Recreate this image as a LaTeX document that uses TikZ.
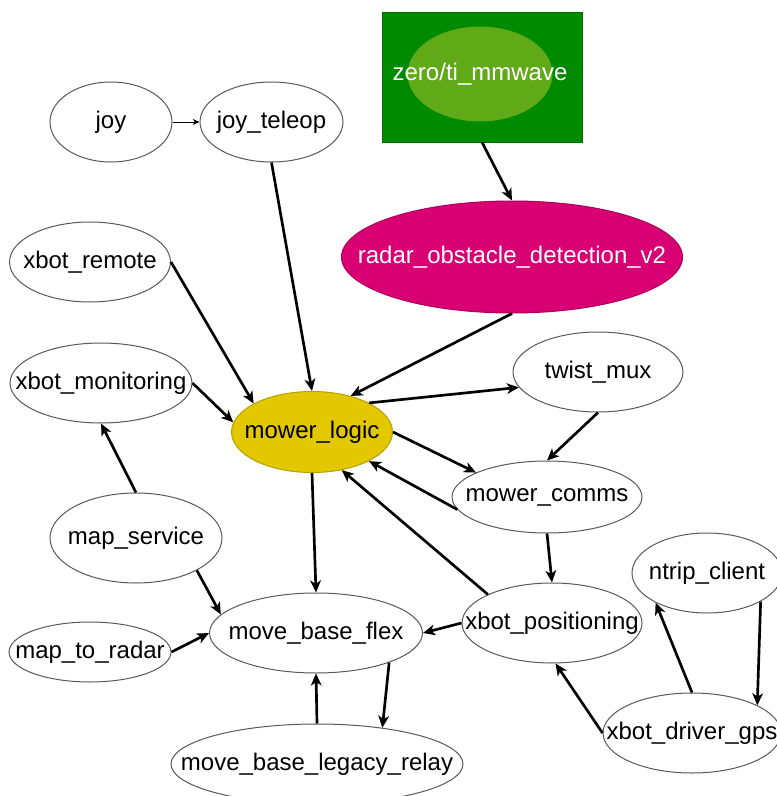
\documentclass[tikz,border=0pt]{standalone}
\usepackage{fontspec}
\setmainfont{Liberation Sans}
\usepackage{tikz}
\usepackage{xcolor}
\usetikzlibrary{shapes.geometric, arrows.meta}

\definecolor{boxgreen}{HTML}{008A00}
\definecolor{lightgreen}{HTML}{60A917}
\definecolor{radarpink}{HTML}{D80073}
\definecolor{logicyellow}{HTML}{E3C800}
\newcommand{\lbl}[1]{\makebox[0pt]{#1}}

\begin{document}
\begin{tikzpicture}[x=0.75pt, y=-0.75pt,
  proc/.style={ellipse, draw=black!65, line width=0.75pt, fill=white, inner sep=0pt,
    font=\fontsize{18}{21}\selectfont},
  link/.style={-{Stealth[length=9pt, width=8pt, inset=2.5pt]}, line width=2pt},
  thinlink/.style={-{Stealth[length=5pt, width=4.5pt, inset=1.5pt]}, line width=0.75pt}]
\useasboundingbox (0,0) rectangle (777,796);

% radar driver box
\node[draw=boxgreen!80!black, fill=boxgreen, minimum width=150pt, minimum height=97.5pt] (mmwave) at (482,77) {};
\node[proc, draw=lightgreen, fill=lightgreen, text=white, minimum width=108pt, minimum height=70.5pt] (mmwavecore) at (480,74) {\lbl{zero/ti\_mmwave}};

% Nodes
\node[proc, minimum width=91.5pt, minimum height=60pt] (joy) at (111,122) {\lbl{joy}};
\node[proc, minimum width=107.25pt, minimum height=60pt] (joyteleop) at (271.5,122) {\lbl{joy\_teleop}};
\node[proc, minimum width=120.75pt, minimum height=60pt] (xbotremote) at (90,262) {\lbl{xbot\_remote}};
\node[proc, draw=radarpink!80!black, fill=radarpink, text=white, minimum width=255.75pt, minimum height=84pt] (radar) at (512,257) {\lbl{radar\_obstacle\_detection\_v2}};
\node[proc, minimum width=136.5pt, minimum height=60pt] (monitoring) at (101,383) {\lbl{xbot\_monitoring}};
\node[proc, draw=logicyellow!80!black, fill=logicyellow, minimum width=120.75pt, minimum height=60.75pt] (logic) at (312,432) {\lbl{mower\_logic}};
\node[proc, minimum width=127.5pt, minimum height=60pt] (twistmux) at (598,372) {\lbl{twist\_mux}};
\node[proc, minimum width=142.5pt, minimum height=54pt] (comms) at (547,497) {\lbl{mower\_comms}};
\node[proc, minimum width=129pt, minimum height=67.5pt] (mapservice) at (136,538) {\lbl{map\_service}};
\node[proc, minimum width=112.5pt, minimum height=60pt] (ntrip) at (707,573) {\lbl{ntrip\_client}};
\node[proc, minimum width=135pt, minimum height=60pt] (positioning) at (552,623) {\lbl{xbot\_positioning}};
\node[proc, minimum width=159.75pt, minimum height=60pt] (mbf) at (316,633) {\lbl{move\_base\_flex}};
\node[proc, minimum width=121.5pt, minimum height=45pt] (maptoradar) at (90,652) {\lbl{map\_to\_radar}};
\node[proc, minimum width=133.5pt, minimum height=60pt] (gps) at (692,733) {\lbl{xbot\_driver\_gps}};
\node[proc, minimum width=219pt, minimum height=60pt] (relay) at (317,764) {\lbl{move\_base\_legacy\_relay}};

% Connections
\draw[thinlink] (joy.east) -- (joyteleop.west);
\draw[link] (joyteleop.south) -- (logic.north);
\draw[link] (mmwave.south) -- (radar.north);
\draw[link] (radar.south) -- (logic.43);
\draw[link] (xbotremote.east) -- (logic.154);
\draw[link] (monitoring.east) -- (logic.173);
\draw[link] (logic.27) -- (twistmux.191);
\draw[link] (logic.east) -- (comms.161);
\draw[link] (twistmux.south) -- (comms.north);
\draw[link] (comms.188) -- (logic.-27);
\draw[link] (positioning.156) -- (logic.-52);
\draw[link] (comms.south) -- (positioning.north);
\draw[link] (positioning.west) -- (mbf.east);
\draw[link] (logic.south) -- (mbf.north);
\draw[link] (mapservice.north) -- (monitoring.south);
\draw[link] (mapservice.-28) -- (mbf.169);
\draw[link] (maptoradar.east) -- (mbf.west);
\draw[link] (relay.north) -- (mbf.south);
\draw[link] (mbf.-22) -- (relay.29);
\draw[link] (gps.north) -- (ntrip.210);
\draw[link] (ntrip.-28) -- (gps.23);
\draw[link] (gps.west) -- (positioning.-85);
\end{tikzpicture}
\end{document}
